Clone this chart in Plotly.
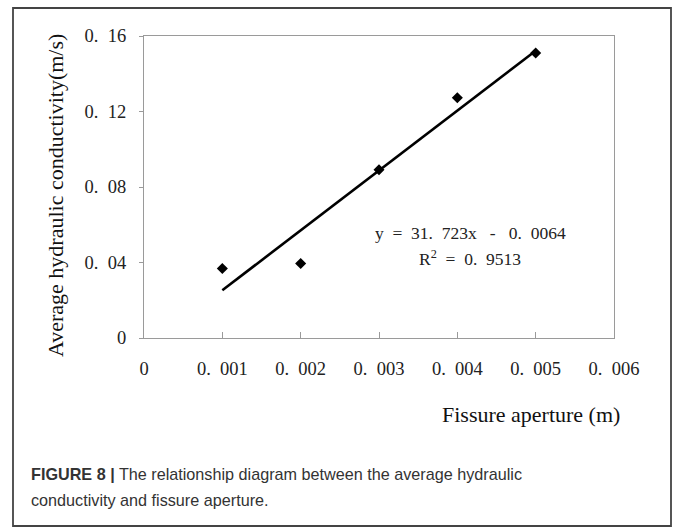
import plotly.graph_objects as go

# Data
aperture = [0.001, 0.002, 0.003, 0.004, 0.005]
conductivity = [0.0368, 0.0395, 0.0891, 0.1273, 0.1510]
trend_x = [0.001, 0.005]
trend_y = [0.0253, 0.1522]
x_tickvals = [0, 0.001, 0.002, 0.003, 0.004, 0.005, 0.006]
x_ticktext = ["0", "0. 001", "0. 002", "0. 003", "0. 004", "0. 005", "0. 006"]
y_tickvals = [0, 0.04, 0.08, 0.12, 0.16]
y_ticktext = ["0", "0. 04", "0. 08", "0. 12", "0. 16"]
equation = "y = 31. 723x - 0. 0064"
r2_text = "R<sup>2</sup> = 0. 9513"

W, H = 675, 532
L, R, T, B = 144, 614, 36, 338


def px(x):
    return (x - L) / (R - L)


def py(y):
    return (B - y) / (B - T)


NB = "&nbsp;"


def wide(s):
    # mimic the half-width monospaced spacing of the original font
    s = s.replace(". ", "." + NB * 2)
    s = s.replace(" = ", NB * 2 + "=" + NB * 2)
    s = s.replace(" - ", NB * 3 + "-" + NB * 3)
    return s


fig = go.Figure()
fig.add_trace(go.Scatter(x=trend_x, y=trend_y, mode="lines",
                         line=dict(color="black", width=2.6), showlegend=False))
fig.add_trace(go.Scatter(x=aperture, y=conductivity, mode="markers",
                         marker=dict(symbol="diamond", size=8.5, color="black"),
                         showlegend=False))

serif = "Liberation Serif, Times New Roman, serif"
fig.update_layout(
    width=W, height=H,
    margin=dict(l=L, r=W - R, t=T, b=H - B),
    paper_bgcolor="white", plot_bgcolor="white",
    font=dict(family=serif, color="#222"),
    xaxis=dict(range=[0, 0.006], tickvals=x_tickvals,
               ticktext=[wide(t) for t in x_ticktext],
               showgrid=False, zeroline=False, showline=True, mirror=True,
               linecolor="#9a9a9a", linewidth=1.2, ticks="inside", ticklen=6,
               tickcolor="#9a9a9a", tickfont=dict(family=serif, size=18.5, color="#222"),
               ticklabelstandoff=14),
    yaxis=dict(range=[0, 0.16], tickvals=y_tickvals,
               ticktext=[wide(t) for t in y_ticktext],
               showgrid=False, zeroline=False, showline=True, mirror=True,
               linecolor="#9a9a9a", linewidth=1.2, ticks="outside", ticklen=4,
               tickcolor="#9a9a9a", tickfont=dict(family=serif, size=18.5, color="#222"),
               ticklabelstandoff=9),
)

for txt, yy in [(equation, 233), (r2_text, 258)]:
    fig.add_annotation(xref="paper", yref="paper", showarrow=False,
                       text=wide(txt), x=px(470), y=py(yy),
                       xanchor="center", yanchor="middle",
                       font=dict(family=serif, size=17.5, color="#222"))

fig.add_annotation(xref="paper", yref="paper", showarrow=False,
                   text="Average hydraulic conductivity(m/s)", textangle=-90,
                   x=px(55), y=py(196), xanchor="center", yanchor="middle",
                   font=dict(family=serif, size=22, color="#111"))
fig.add_annotation(xref="paper", yref="paper", showarrow=False,
                   text="Fissure aperture (m)",
                   x=px(531), y=py(414), xanchor="center", yanchor="middle",
                   font=dict(family=serif, size=22, color="#111"))

sans = "Liberation Sans, Arial, sans-serif"
fig.add_annotation(xref="paper", yref="paper", showarrow=False,
                   text="<b>FIGURE 8 |</b> The relationship diagram between the average hydraulic",
                   x=px(29), y=py(474), xanchor="left", yanchor="middle",
                   font=dict(family=sans, size=16.2, color="#333"))
fig.add_annotation(xref="paper", yref="paper", showarrow=False,
                   text="conductivity and fissure aperture.",
                   x=px(29), y=py(500), xanchor="left", yanchor="middle",
                   font=dict(family=sans, size=16.2, color="#333"))

fig.add_shape(type="rect", xref="paper", yref="paper",
              x0=px(13), x1=px(671), y0=py(8), y1=py(526),
              line=dict(color="#444", width=1.8), fillcolor="rgba(0,0,0,0)")

fig.write_html("out.html")
